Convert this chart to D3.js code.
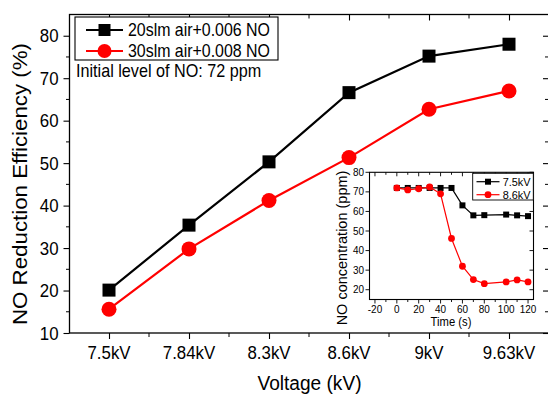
<!DOCTYPE html>
<html>
<head>
<meta charset="utf-8">
<script src="https://cdn.jsdelivr.net/npm/d3@7"></script>
<style>
  body { margin: 0; background: #fff; }
  svg { display: block; }
  text { font-family: "Liberation Sans", Arial, sans-serif; fill: #000; }
</style>
</head>
<body>
<svg id="chart" width="548" height="396"></svg>
<script>
// main chart data
const categories = ["7.5kV", "7.84kV", "8.3kV", "8.6kV", "9kV", "9.63kV"];
const eff20slm = [20.1, 35.4, 50.3, 66.6, 75.2, 78.0];
const eff30slm = [15.6, 29.8, 41.2, 51.3, 62.7, 67.0];
const yTickValues = [10, 20, 30, 40, 50, 60, 70, 80];
const yMinorValues = [15, 25, 35, 45, 55, 65, 75, 85];
const seriesNames = ["20slm air+0.006 NO", "30slm air+0.008 NO"];

// inset data
const insetTime = [0, 10, 20, 30, 40, 50, 60, 70, 80, 100, 110, 120];
const conc75kV = [72, 72, 72, 72, 72, 72, 63.1, 58, 58.1, 58.4, 58, 57.6];
const conc86kV = [72, 71, 71.6, 72.5, 69, 46.2, 32, 25.2, 23.1, 24, 25, 24];
const insetXTicks = [-20, 0, 20, 40, 60, 80, 100, 120];
const insetXMinor = [-10, 10, 30, 50, 70, 90, 110];
const insetYTicks = [20, 30, 40, 50, 60, 70, 80];
const insetNames = ["7.5kV", "8.6kV"];

const svg = d3.select("#chart");
const SX = 0.91; // glyphs in the picture are a bit narrow

// text helper, squeezes glyphs horizontally
function label(parent, x, y, str, size, anchor, sx = SX, rot = 0) {
  return parent.append("text")
    .attr("transform", `translate(${x},${y}) scale(${sx},1) rotate(${rot})`)
    .attr("font-size", size)
    .attr("text-anchor", anchor || "start")
    .text(str);
}

// ---------- main plot ----------
const plot = { left: 69.5, right: 549, top: 14.5, bottom: 333 };

const x = d3.scalePoint().domain(categories).range([plot.left - 0.5, plot.right]).padding(0.5);
const y = d3.scaleLinear().domain([10, 85]).range([plot.bottom, plot.top]);

const minorX = categories.slice(0, -1).map((c) => x(c) + x.step() / 2);

// bottom axis
const gx = svg.append("g").attr("transform", `translate(0,${plot.bottom})`)
  .call(d3.axisBottom(x).tickSize(6).tickSizeOuter(0).tickFormat(""));
gx.select(".domain").remove();
categories.forEach((c) => label(svg, x(c), 359, c, 18.5, "middle"));
minorX.forEach((m) => svg.append("line").attr("x1", m).attr("x2", m)
  .attr("y1", plot.bottom).attr("y2", plot.bottom + 4).attr("stroke", "#000"));

// top axis, ticks inward
const gt = svg.append("g").attr("transform", `translate(0,${plot.top})`)
  .call(d3.axisTop(x).tickSize(-6).tickSizeOuter(0).tickFormat(""));
gt.select(".domain").remove();
minorX.forEach((m) => svg.append("line").attr("x1", m).attr("x2", m)
  .attr("y1", plot.top).attr("y2", plot.top + 4).attr("stroke", "#000"));

// left axis
const gy = svg.append("g").attr("transform", `translate(${plot.left},0)`)
  .call(d3.axisLeft(y).tickValues(yTickValues).tickSize(6).tickSizeOuter(0).tickFormat(""));
gy.select(".domain").remove();
yTickValues.forEach((v) => label(svg, 58.5, y(v) + 6.5, v, 18.5, "end"));
yMinorValues.filter((v) => v < 85).forEach((v) => svg.append("line")
  .attr("x1", plot.left - 3.5).attr("x2", plot.left).attr("y1", y(v)).attr("y2", y(v)).attr("stroke", "#000"));

// right axis, ticks inward
const gr = svg.append("g").attr("transform", `translate(${plot.right},0)`)
  .call(d3.axisRight(y).tickValues(yTickValues).tickSize(-6).tickSizeOuter(0).tickFormat(""));
gr.select(".domain").remove();
yMinorValues.filter((v) => v < 85).forEach((v) => svg.append("line")
  .attr("x1", plot.right - 4).attr("x2", plot.right).attr("y1", y(v)).attr("y2", y(v)).attr("stroke", "#000"));

svg.selectAll(".tick line").attr("stroke-width", 1.1);

// frame
svg.append("rect")
  .attr("x", plot.left).attr("y", plot.top)
  .attr("width", plot.right - plot.left).attr("height", plot.bottom - plot.top)
  .attr("fill", "none").attr("stroke", "#000").attr("stroke-width", 1.3);

// axis titles
label(svg, 309.5, 390, "Voltage (kV)", 21, "middle", 0.91);
label(svg, 27, 184, "NO Reduction Efficiency (%)", 22.3, "middle", 0.9, -90);

// series
const line = d3.line().x((d) => x(d[0])).y((d) => y(d[1]));
const black = categories.map((c, i) => [c, eff20slm[i]]);
const red = categories.map((c, i) => [c, eff30slm[i]]);

svg.append("path").datum(black).attr("d", line)
  .attr("fill", "none").attr("stroke", "#000").attr("stroke-width", 2.2);
svg.append("path").datum(red).attr("d", line)
  .attr("fill", "none").attr("stroke", "#ff0000").attr("stroke-width", 2.2);

svg.selectAll(".sq").data(black).join("rect")
  .attr("x", (d) => x(d[0]) - 6.5).attr("y", (d) => y(d[1]) - 6.5)
  .attr("width", 13).attr("height", 13).attr("fill", "#000");
svg.selectAll(".ci").data(red).join("circle")
  .attr("cx", (d) => x(d[0])).attr("cy", (d) => y(d[1])).attr("r", 7.5).attr("fill", "#ff0000");

// legend
const lg = svg.append("g");
lg.append("rect").attr("x", 75).attr("y", 17).attr("width", 203).attr("height", 43)
  .attr("fill", "#fff").attr("stroke", "#000").attr("stroke-width", 1.1);
[30, 51].forEach((ly, i) => {
  const col = i === 0 ? "#000" : "#ff0000";
  lg.append("line").attr("x1", 86).attr("x2", 123).attr("y1", ly).attr("y2", ly)
    .attr("stroke", col).attr("stroke-width", 2.2);
  if (i === 0) {
    lg.append("rect").attr("x", 104.5 - 6).attr("y", ly - 6).attr("width", 12).attr("height", 12).attr("fill", col);
  } else {
    lg.append("circle").attr("cx", 104.5).attr("cy", ly).attr("r", 7).attr("fill", col);
  }
  label(lg, 128, ly + 6.3, seriesNames[i], 17.5, "start");
});
label(svg, 76, 77, "Initial level of NO: 72 ppm", 17.8, "start");

// ---------- inset ----------
const ins = { left: 369.5, right: 533.5, top: 172.3, bottom: 299.5 };
const xi = d3.scaleLinear().domain([-25, 125]).range([ins.left, ins.right]);
const yi = d3.scaleLinear().domain([15, 80]).range([ins.bottom, ins.top]);

const gi = svg.append("g");
gi.append("rect").attr("x", ins.left).attr("y", ins.top)
  .attr("width", ins.right - ins.left).attr("height", ins.bottom - ins.top)
  .attr("fill", "#fff");

function ticksX(vals, y0, len) {
  vals.forEach((v) => gi.append("line").attr("x1", xi(v)).attr("x2", xi(v))
    .attr("y1", y0).attr("y2", y0 + len).attr("stroke", "#000").attr("stroke-width", 0.9));
}
function ticksY(vals, x0, len) {
  vals.forEach((v) => gi.append("line").attr("x1", x0).attr("x2", x0 + len)
    .attr("y1", yi(v)).attr("y2", yi(v)).attr("stroke", "#000").attr("stroke-width", 0.9));
}
ticksX(insetXTicks, ins.bottom, 4);
ticksX(insetXMinor, ins.bottom, 2.5);
ticksX(insetXTicks, ins.top, 4);
ticksX(insetXMinor, ins.top, 2.5);
ticksY(insetYTicks, ins.left, -4);
ticksY(insetYTicks, ins.right, -4);

gi.append("rect").attr("x", ins.left).attr("y", ins.top)
  .attr("width", ins.right - ins.left).attr("height", ins.bottom - ins.top)
  .attr("fill", "none").attr("stroke", "#000").attr("stroke-width", 1.1);

insetXTicks.forEach((v) => label(gi, xi(v), 312.5, v, 10.5, "middle", 0.95));
insetYTicks.forEach((v) => label(gi, 364, yi(v) + 3.6, v, 10.5, "end", 0.95));
label(gi, 451, 326, "Time (s)", 12.5, "middle", 0.9);
label(gi, 346.5, 248, "NO concentration (ppm)", 14.5, "middle", 1, -90);

const li = d3.line().x((d) => xi(d[0])).y((d) => yi(d[1]));
const s75 = insetTime.map((t, i) => [t, conc75kV[i]]);
const s86 = insetTime.map((t, i) => [t, conc86kV[i]]);

gi.append("path").datum(s75).attr("d", li).attr("fill", "none").attr("stroke", "#000").attr("stroke-width", 1.2);
gi.selectAll(".isq").data(s75).join("rect")
  .attr("x", (d) => xi(d[0]) - 3).attr("y", (d) => yi(d[1]) - 3)
  .attr("width", 6).attr("height", 6).attr("fill", "#000");
gi.append("path").datum(s86).attr("d", li).attr("fill", "none").attr("stroke", "#ff0000").attr("stroke-width", 1.2);
gi.selectAll(".ici").data(s86).join("circle")
  .attr("cx", (d) => xi(d[0])).attr("cy", (d) => yi(d[1])).attr("r", 3.4).attr("fill", "#ff0000");

// inset legend
gi.append("rect").attr("x", 472.7).attr("y", 173.3).attr("width", 60.6).attr("height", 26.7)
  .attr("fill", "#fff").attr("stroke", "#000").attr("stroke-width", 0.9);
[181.7, 194.7].forEach((ly, i) => {
  const col = i === 0 ? "#000" : "#ff0000";
  gi.append("line").attr("x1", 476.5).attr("x2", 499.5).attr("y1", ly).attr("y2", ly)
    .attr("stroke", col).attr("stroke-width", 1.2);
  if (i === 0) {
    gi.append("rect").attr("x", 485).attr("y", ly - 3).attr("width", 6).attr("height", 6).attr("fill", col);
  } else {
    gi.append("circle").attr("cx", 488).attr("cy", ly).attr("r", 3.4).attr("fill", col);
  }
  label(gi, 502.7, ly + 4, insetNames[i], 11.5, "start", 0.95);
});
</script>
</body>
</html>
